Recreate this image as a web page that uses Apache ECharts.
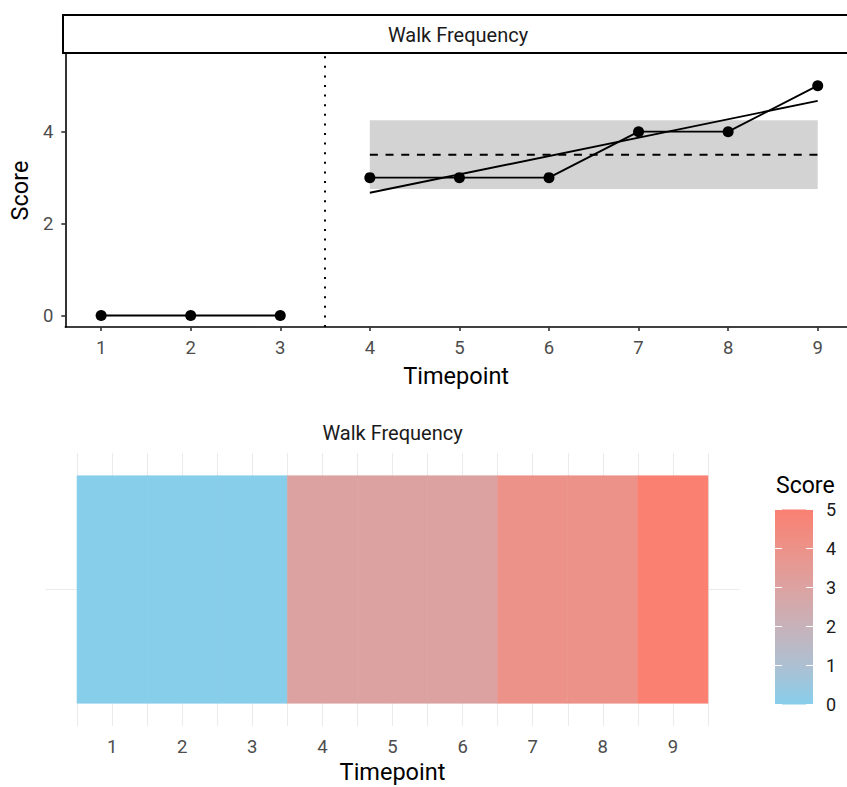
<!DOCTYPE html>
<html><head><meta charset="utf-8">
<script src="https://cdn.jsdelivr.net/npm/echarts@6/dist/echarts.min.js"></script>
<style>html,body{margin:0;padding:0;background:#fff}#c{width:847px;height:787px}</style>
</head><body><div id="c"></div>
<script>
// ---- data ----
const baselineTime = [1, 2, 3];
const baselineScore = [0, 0, 0];
const interventionTime = [4, 5, 6, 7, 8, 9];
const interventionScore = [3, 3, 3, 4, 4, 5];
const trendTime = [4, 9];
const trendScore = [2.67, 4.67];
const bandTime = [4, 9];
const bandScore = [2.75, 4.25];
const medianTime = [4, 9];
const medianScore = [3.5, 3.5];
const phaseChange = 3.5;
const xTickValues = [1, 2, 3, 4, 5, 6, 7, 8, 9];
const yTickValues = [0, 2, 4];
const heatTime = [1, 2, 3, 4, 5, 6, 7, 8, 9];
const heatScore = [0, 0, 0, 3, 3, 3, 4, 4, 5];
const heatGridValues = [0.5, 1, 1.5, 2, 2.5, 3, 3.5, 4, 4.5, 5, 5.5, 6, 6.5, 7, 7.5, 8, 8.5, 9, 9.5];
const legendTickValues = [0, 1, 2, 3, 4, 5];
const panelTitle = 'Walk Frequency';

// ---- styles ----
const FONT = 'Roboto, "Liberation Sans", Arial, sans-serif';
const gradientColors = ['#87CEEB', '#ADC0D2', '#C7B2B9', '#DCA2A1', '#EC9289', '#FA8072'];
const zip = (a, b) => a.map((v, i) => [v, b[i]]);

const chart = echarts.init(document.getElementById('c'), null, { renderer: 'svg' });

const tickLabel = { color: '#4D4D4D', fontSize: 18.5, fontFamily: FONT };
const axisName = { color: '#000', fontSize: 23.5, fontFamily: FONT };

const option = {
  animation: false,
  backgroundColor: '#fff',
  grid: [
    { left: 62, top: 54, width: 785, height: 273, containLabel: false },
    { left: 45.5, top: 453, width: 694, height: 273, containLabel: false },
    { left: 775, top: 509.5, width: 38, height: 195, show: true, borderWidth: 0,
      backgroundColor: { type: 'linear', x: 0, y: 1, x2: 0, y2: 0,
        colorStops: gradientColors.map((c, i) => ({ offset: i / (gradientColors.length - 1), color: c })) } }
  ],
  xAxis: [
    { gridIndex: 0, type: 'value', min: 0.6, max: 9.327,
      axisLine: { show: true, onZero: false, lineStyle: { color: '#000', width: 1.6 } },
      axisTick: { show: true, customValues: xTickValues, length: 4, lineStyle: { color: '#333', width: 1.6 } },
      axisLabel: Object.assign({ customValues: xTickValues, margin: 11 }, tickLabel),
      splitLine: { show: false },
      name: 'Timepoint', nameLocation: 'middle', nameGap: 37, nameTextStyle: axisName },
    { gridIndex: 1, type: 'value', min: 0.05, max: 9.95,
      axisLine: { show: false, onZero: false },
      axisTick: { show: false, customValues: heatGridValues },
      axisLabel: Object.assign({ customValues: xTickValues, margin: 11 }, tickLabel),
      splitLine: { show: true, lineStyle: { color: '#EBEBEB', width: 1.1 } },
      name: 'Timepoint', nameLocation: 'middle', nameGap: 34, nameTextStyle: axisName },
    { gridIndex: 2, type: 'value', min: 0, max: 1, show: false }
  ],
  yAxis: [
    { gridIndex: 0, type: 'value', min: -0.25, max: 5.69,
      axisLine: { show: true, onZero: false, lineStyle: { color: '#000', width: 1.6 } },
      axisTick: { show: true, customValues: yTickValues, length: 4, lineStyle: { color: '#333', width: 1.6 } },
      axisLabel: Object.assign({ customValues: yTickValues, margin: 12 }, tickLabel),
      splitLine: { show: false },
      name: 'Score', nameLocation: 'middle', nameGap: 30, nameTextStyle: axisName },
    { gridIndex: 1, type: 'value', min: 0.4, max: 1.6,
      axisLine: { show: false, onZero: false },
      axisTick: { show: false, customValues: [1] },
      axisLabel: { show: false },
      splitLine: { show: true, lineStyle: { color: '#EBEBEB', width: 1.1 } } },
    { gridIndex: 2, type: 'value', min: 0, max: 5, position: 'left',
      axisLine: { show: false, onZero: false },
      axisTick: { show: true, inside: true, customValues: legendTickValues, length: 7, lineStyle: { color: '#fff', width: 1 } },
      axisLabel: { show: false }, splitLine: { show: false } },
    { gridIndex: 2, type: 'value', min: 0, max: 5, position: 'right',
      axisLine: { show: false, onZero: false },
      axisTick: { show: true, inside: true, customValues: legendTickValues, length: 7, lineStyle: { color: '#fff', width: 1 } },
      axisLabel: { customValues: legendTickValues, color: '#1A1A1A', fontSize: 18, fontFamily: FONT, margin: 13 },
      splitLine: { show: false } }
  ],
  visualMap: [{
    show: false, type: 'continuous', seriesIndex: 6, dimension: 2, min: 0, max: 5,
    inRange: { color: gradientColors }
  }],
  series: [
    { // shaded band
      type: 'custom', xAxisIndex: 0, yAxisIndex: 0, z: 1, silent: true,
      data: [[bandTime[0], bandTime[1], bandScore[0], bandScore[1]]],
      renderItem: function (params, api) {
        const p0 = api.coord([api.value(0), api.value(3)]);
        const p1 = api.coord([api.value(1), api.value(2)]);
        return { type: 'rect', shape: { x: p0[0], y: p0[1], width: p1[0] - p0[0], height: p1[1] - p0[1] },
          style: { fill: '#D3D3D3' } };
      }
    },
    { // median dashed line + phase change dotted line
      type: 'line', xAxisIndex: 0, yAxisIndex: 0, z: 2, silent: true,
      data: zip(medianTime, medianScore), symbol: 'none',
      lineStyle: { color: '#000', width: 2, type: [8, 7.7] },
      markLine: { silent: true, symbol: ['none', 'none'], label: { show: false },
        lineStyle: { color: '#000', width: 2, type: [2, 7.6] },
        data: [{ xAxis: phaseChange }] }
    },
    { // trend line
      type: 'line', xAxisIndex: 0, yAxisIndex: 0, z: 3, silent: true,
      data: zip(trendTime, trendScore), symbol: 'none',
      lineStyle: { color: '#000', width: 1.9 }
    },
    { // baseline
      type: 'line', xAxisIndex: 0, yAxisIndex: 0, z: 4, silent: true,
      data: zip(baselineTime, baselineScore), symbol: 'circle', symbolSize: 11, showAllSymbol: true,
      itemStyle: { color: '#000' }, lineStyle: { color: '#000', width: 1.9 }
    },
    { // intervention
      type: 'line', xAxisIndex: 0, yAxisIndex: 0, z: 4, silent: true,
      data: zip(interventionTime, interventionScore), symbol: 'circle', symbolSize: 11, showAllSymbol: true,
      itemStyle: { color: '#000' }, lineStyle: { color: '#000', width: 1.9 }
    },
    { // placeholder for legend grid axes
      type: 'line', xAxisIndex: 2, yAxisIndex: 2, data: [], silent: true
    },
    { // heatmap tiles
      type: 'custom', xAxisIndex: 1, yAxisIndex: 1, z: 3, silent: true,
      data: heatTime.map((t, i) => [t, 1, heatScore[i]]),
      encode: { x: 0, y: 1 },
      renderItem: function (params, api) {
        const t = api.value(0), s = api.value(1);
        const p0 = api.coord([t - 0.5, s + 0.5]);
        const p1 = api.coord([t + 0.5, s - 0.5]);
        const c = api.visual('color');
        return { type: 'rect', shape: { x: p0[0], y: p0[1], width: p1[0] - p0[0], height: p1[1] - p0[1] },
          style: { fill: c, stroke: c, lineWidth: 0.6 } };
      }
    }
  ],
  graphic: [
    { type: 'rect', shape: { x: 63, y: 15, width: 820, height: 38 },
      style: { fill: '#fff', stroke: '#000', lineWidth: 2 }, z: 10, silent: true },
    { type: 'text', x: 458, y: 35, z: 11, silent: true,
      style: { text: panelTitle, font: '20px ' + FONT, fill: '#1A1A1A', align: 'center', verticalAlign: 'middle' } },
    { type: 'text', x: 392.5, y: 433, z: 11, silent: true,
      style: { text: panelTitle, font: '20px ' + FONT, fill: '#1A1A1A', align: 'center', verticalAlign: 'middle' } },
    { type: 'text', x: 776, y: 485, z: 11, silent: true,
      style: { text: 'Score', font: '23px ' + FONT, fill: '#000', align: 'left', verticalAlign: 'middle' } }
  ]
};
chart.setOption(option);
</script>
</body></html>
